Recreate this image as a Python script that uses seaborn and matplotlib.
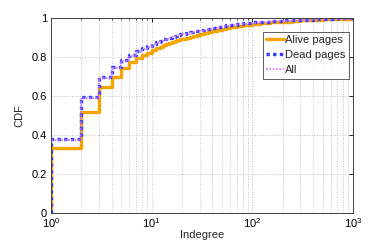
import numpy as np
import pandas as pd
import matplotlib
matplotlib.use("Agg")
import matplotlib.pyplot as plt
import seaborn as sns
from matplotlib.ticker import LogLocator

# indegree values where the CDF steps
degrees = [1, 2, 3, 4, 5, 6, 7, 8, 9, 10, 11, 12, 13, 14, 15, 16, 17, 18, 19, 20,
           22, 24, 26, 28, 30, 33, 36, 40, 45, 50, 55, 60, 70, 80, 90, 100,
           120, 150, 200, 250, 300, 400, 500, 700, 1000]

cdf_alive = [0.333, 0.518, 0.645, 0.700, 0.742, 0.772, 0.795, 0.810, 0.823, 0.835,
             0.845, 0.853, 0.860, 0.866, 0.872, 0.877, 0.882, 0.886, 0.890, 0.894,
             0.899, 0.904, 0.909, 0.914, 0.918, 0.923, 0.928, 0.934, 0.940, 0.945,
             0.949, 0.953, 0.958, 0.962, 0.965, 0.968,
             0.972, 0.977, 0.982, 0.985, 0.988, 0.991, 0.993, 0.996, 1.000]
cdf_dead = [0.380, 0.595, 0.696, 0.750, 0.785, 0.810, 0.830, 0.845, 0.857, 0.867,
            0.876, 0.883, 0.890, 0.895, 0.900, 0.905, 0.909, 0.913, 0.916, 0.919,
            0.923, 0.927, 0.931, 0.935, 0.938, 0.942, 0.946, 0.951, 0.955, 0.959,
            0.962, 0.965, 0.969, 0.973, 0.976, 0.978,
            0.981, 0.984, 0.988, 0.990, 0.992, 0.994, 0.996, 0.998, 1.000]
cdf_all = [0.376, 0.590, 0.692, 0.746, 0.781, 0.806, 0.826, 0.841, 0.853, 0.863,
           0.872, 0.880, 0.887, 0.892, 0.897, 0.902, 0.906, 0.910, 0.913, 0.916,
           0.920, 0.924, 0.928, 0.932, 0.935, 0.939, 0.943, 0.948, 0.953, 0.957,
           0.960, 0.963, 0.967, 0.971, 0.974, 0.976,
           0.980, 0.983, 0.987, 0.989, 0.991, 0.993, 0.995, 0.997, 1.000]

series = ["Alive pages", "Dead pages", "All"]
colors = {"Alive pages": "#F5A500", "Dead pages": "#3040FF", "All": "#D070FF"}

y_ticks = [0, 0.2, 0.4, 0.6, 0.8, 1]
y_labels = ["0", "0.2", "0.4", "0.6", "0.8", "1"]

sns.set_theme(style="white")
plt.rcParams["font.family"] = ["Liberation Sans", "DejaVu Sans"]
plt.rcParams["mathtext.default"] = "regular"
plt.rcParams["mathtext.fontset"] = "custom"
plt.rcParams["mathtext.rm"] = "Liberation Sans"

# long table; each curve starts at CDF=0 at degree 1
rows = []
for name, vals in zip(series, [cdf_alive, cdf_dead, cdf_all]):
    rows.append((name, degrees[0], 0.0))
    rows += [(name, d, v) for d, v in zip(degrees, vals)]
df = pd.DataFrame(rows, columns=["series", "Indegree", "CDF"])

fig = plt.figure(figsize=(3.9, 2.4), dpi=100)
ax = fig.add_axes([0.131, 0.1125, 0.774, 0.8125])

styles = {
    "Alive pages": dict(lw=2.4, ls="-"),
    "Dead pages": dict(lw=2.4, ls=(0, (1, 1))),
    "All": dict(lw=1.2, ls=(0, (1, 1))),
}
for name in series:
    sub = df[df["series"] == name]
    sns.lineplot(data=sub, x="Indegree", y="CDF", ax=ax, estimator=None, sort=False,
                 drawstyle="steps-post", color=colors[name], label=name,
                 linewidth=styles[name]["lw"], linestyle=styles[name]["ls"])

ax.set_xscale("log")
ax.set_xlim(1, 1000)
ax.set_ylim(0, 1)
ax.set_yticks(y_ticks)
ax.set_yticklabels(y_labels)
ax.xaxis.set_major_locator(LogLocator(base=10, numticks=10))
ax.xaxis.set_minor_locator(LogLocator(base=10, subs=np.arange(2, 10), numticks=20))

ax.grid(True, which="major", color="#c0c0c0", linestyle=":", linewidth=0.7)
ax.grid(True, which="minor", axis="x", color="#c0c0c0", linestyle=":", linewidth=0.7)

ax.tick_params(which="both", direction="in", top=True, right=True,
               labelsize=8, colors="black")
ax.tick_params(axis="y", pad=3)
ax.tick_params(axis="x", pad=2.5)
ax.tick_params(which="major", length=3, width=0.6)
ax.tick_params(which="minor", length=1.5, width=0.5)
for s in ax.spines.values():
    s.set_color("#404040")
    s.set_linewidth(0.7)

ax.set_xlabel("Indegree", fontsize=8, labelpad=0)
ax.set_ylabel("CDF", fontsize=8, labelpad=5)

leg = ax.legend(loc="upper right", bbox_to_anchor=(0.987, 0.928), fontsize=8,
                frameon=True, fancybox=False, handlelength=1.6, handletextpad=0.15,
                borderpad=0.3, labelspacing=0.45, borderaxespad=0.0)
leg.get_frame().set_edgecolor("#333333")
leg.get_frame().set_linewidth(0.7)

fig.savefig("out.png", dpi=100)
